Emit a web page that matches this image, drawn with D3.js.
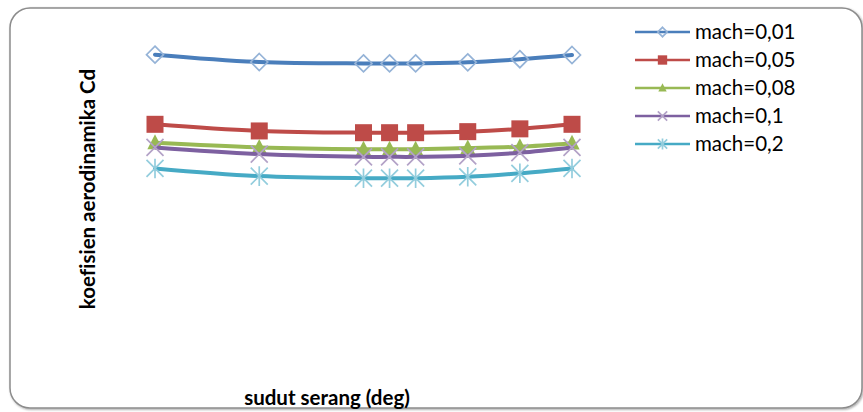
<!DOCTYPE html>
<html>
<head>
<meta charset="utf-8">
<script src="https://cdn.jsdelivr.net/npm/d3@7"></script>
<style>
  html, body { margin: 0; padding: 0; background: #fff; }
  svg { display: block; }
  text { font-variant-ligatures: none; font-feature-settings: "liga" 0; }
</style>
</head>
<body>
<svg id="chart" width="863" height="412"></svg>
<script>
// Angle of attack (deg)
const angles = [-8, -4, 0, 1, 2, 4, 6, 8];

// Drag coefficient Cd for each Mach number
const mach001 = [0.0901, 0.0880, 0.0876, 0.0876, 0.0876, 0.0879, 0.0888, 0.0900];
const mach005 = [0.0702, 0.0683, 0.0678, 0.0678, 0.0678, 0.0681, 0.0689, 0.0702];
const mach008 = [0.0649, 0.0636, 0.0631, 0.0631, 0.0631, 0.0634, 0.0638, 0.0648];
const mach01  = [0.0636, 0.0617, 0.0609, 0.0609, 0.0609, 0.0612, 0.0621, 0.0636];
const mach02  = [0.0576, 0.0554, 0.0548, 0.0548, 0.0548, 0.0552, 0.0562, 0.0576];

const seriesNames = ["mach=0,01", "mach=0,05", "mach=0,08", "mach=0,1", "mach=0,2"];
const seriesValues = [mach001, mach005, mach008, mach01, mach02];
const lineColors = ["#4a7ebb", "#be4b48", "#98b954", "#7d60a0", "#46aac5"];
const markerColors = ["#95b3d7", "#be4b48", "#98b954", "#b3a2c7", "#93cddd"];
const markerTypes = ["diamond", "square", "triangle", "cross", "star"];

const xTitle = "sudut serang (deg)";
const yTitle = "koefisien aerodinamika Cd";

const FONT = "Lato, 'Open Sans', 'Liberation Sans', sans-serif";

const svg = d3.select("#chart");

// Rounded chart frame with a soft shadow
const defs = svg.append("defs");
const f = defs.append("filter").attr("id", "shadow").attr("x", "-5%").attr("y", "-5%").attr("width", "110%").attr("height", "110%");
f.append("feDropShadow").attr("dx", 1).attr("dy", 1).attr("stdDeviation", 1.2).attr("flood-color", "#000").attr("flood-opacity", 0.35);

svg.append("rect")
  .attr("x", 10).attr("y", 8).attr("width", 852).attr("height", 400)
  .attr("rx", 20).attr("ry", 20)
  .attr("fill", "#fff").attr("stroke", "#8c8c8c").attr("stroke-width", 1.5)
  .attr("filter", "url(#shadow)");

// Scales
const x = d3.scaleLinear().domain([-8, 8]).range([155, 572]);
const y = d3.scaleLinear().domain([0, 0.1]).range([370, 20]);

const line = d3.line()
  .x((d, i) => x(angles[i]))
  .y(d => y(d))
  .curve(d3.curveCatmullRom.alpha(0.5));

function drawMarker(g, type, cx, cy, color, scale) {
  const s = scale || 1;
  const sw = 1.7;
  if (type === "diamond") {
    const r = 8.5 * s;
    g.append("path")
      .attr("d", `M${cx},${cy - r}L${cx + r},${cy}L${cx},${cy + r}L${cx - r},${cy}Z`)
      .attr("fill", "none").attr("stroke", color).attr("stroke-width", sw);
  } else if (type === "square") {
    const h = 8.5 * s;
    g.append("rect").attr("x", cx - h).attr("y", cy - h).attr("width", 2 * h).attr("height", 2 * h)
      .attr("fill", color);
  } else if (type === "triangle") {
    const h = 8.5 * s;
    g.append("path")
      .attr("d", `M${cx},${cy - h}L${cx + h * 0.9},${cy + h * 0.75}L${cx - h * 0.9},${cy + h * 0.75}Z`)
      .attr("fill", color);
  } else if (type === "cross") {
    const r = 8.5 * s;
    g.append("path")
      .attr("d", `M${cx - r},${cy - r}L${cx + r},${cy + r}M${cx - r},${cy + r}L${cx + r},${cy - r}`)
      .attr("stroke", color).attr("stroke-width", sw).attr("fill", "none");
  } else if (type === "star") {
    const r = 8.5 * s;
    g.append("path")
      .attr("d", `M${cx - r},${cy - r}L${cx + r},${cy + r}M${cx - r},${cy + r}L${cx + r},${cy - r}M${cx},${cy - r * 1.15}L${cx},${cy + r * 1.15}`)
      .attr("stroke", color).attr("stroke-width", sw).attr("fill", "none");
  }
}

// Series lines and markers
seriesValues.forEach((vals, k) => {
  const g = svg.append("g");
  g.append("path").datum(vals)
    .attr("d", line)
    .attr("fill", "none")
    .attr("stroke", lineColors[k])
    .attr("stroke-width", 4)
    .attr("stroke-linecap", "round");
  vals.forEach((v, i) => drawMarker(g, markerTypes[k], x(angles[i]), y(v), markerColors[k], 1));
});

// Legend
const legend = svg.append("g");
seriesNames.forEach((name, k) => {
  const ly = 32 + k * 28;
  legend.append("line").attr("x1", 635).attr("x2", 690).attr("y1", ly).attr("y2", ly)
    .attr("stroke", lineColors[k]).attr("stroke-width", 2.5);
  drawMarker(legend, markerTypes[k], 662.5, ly, markerColors[k], 0.55);
  legend.append("text").attr("x", 695).attr("y", ly + 7)
    .attr("font-family", FONT)
    .attr("font-size", 20.5).attr("fill", "#000")
    .text(name);
});

// Axis titles
svg.append("text")
  .attr("x", 327).attr("y", 405)
  .attr("text-anchor", "middle")
  .attr("font-family", FONT)
  .attr("font-weight", "bold").attr("font-size", 20.5)
  .text(xTitle);

svg.append("text")
  .attr("transform", "translate(95,189) rotate(-90)")
  .attr("text-anchor", "middle")
  .attr("font-family", FONT)
  .attr("font-weight", "bold").attr("font-size", 20.5)
  .text(yTitle);
</script>
</body>
</html>
